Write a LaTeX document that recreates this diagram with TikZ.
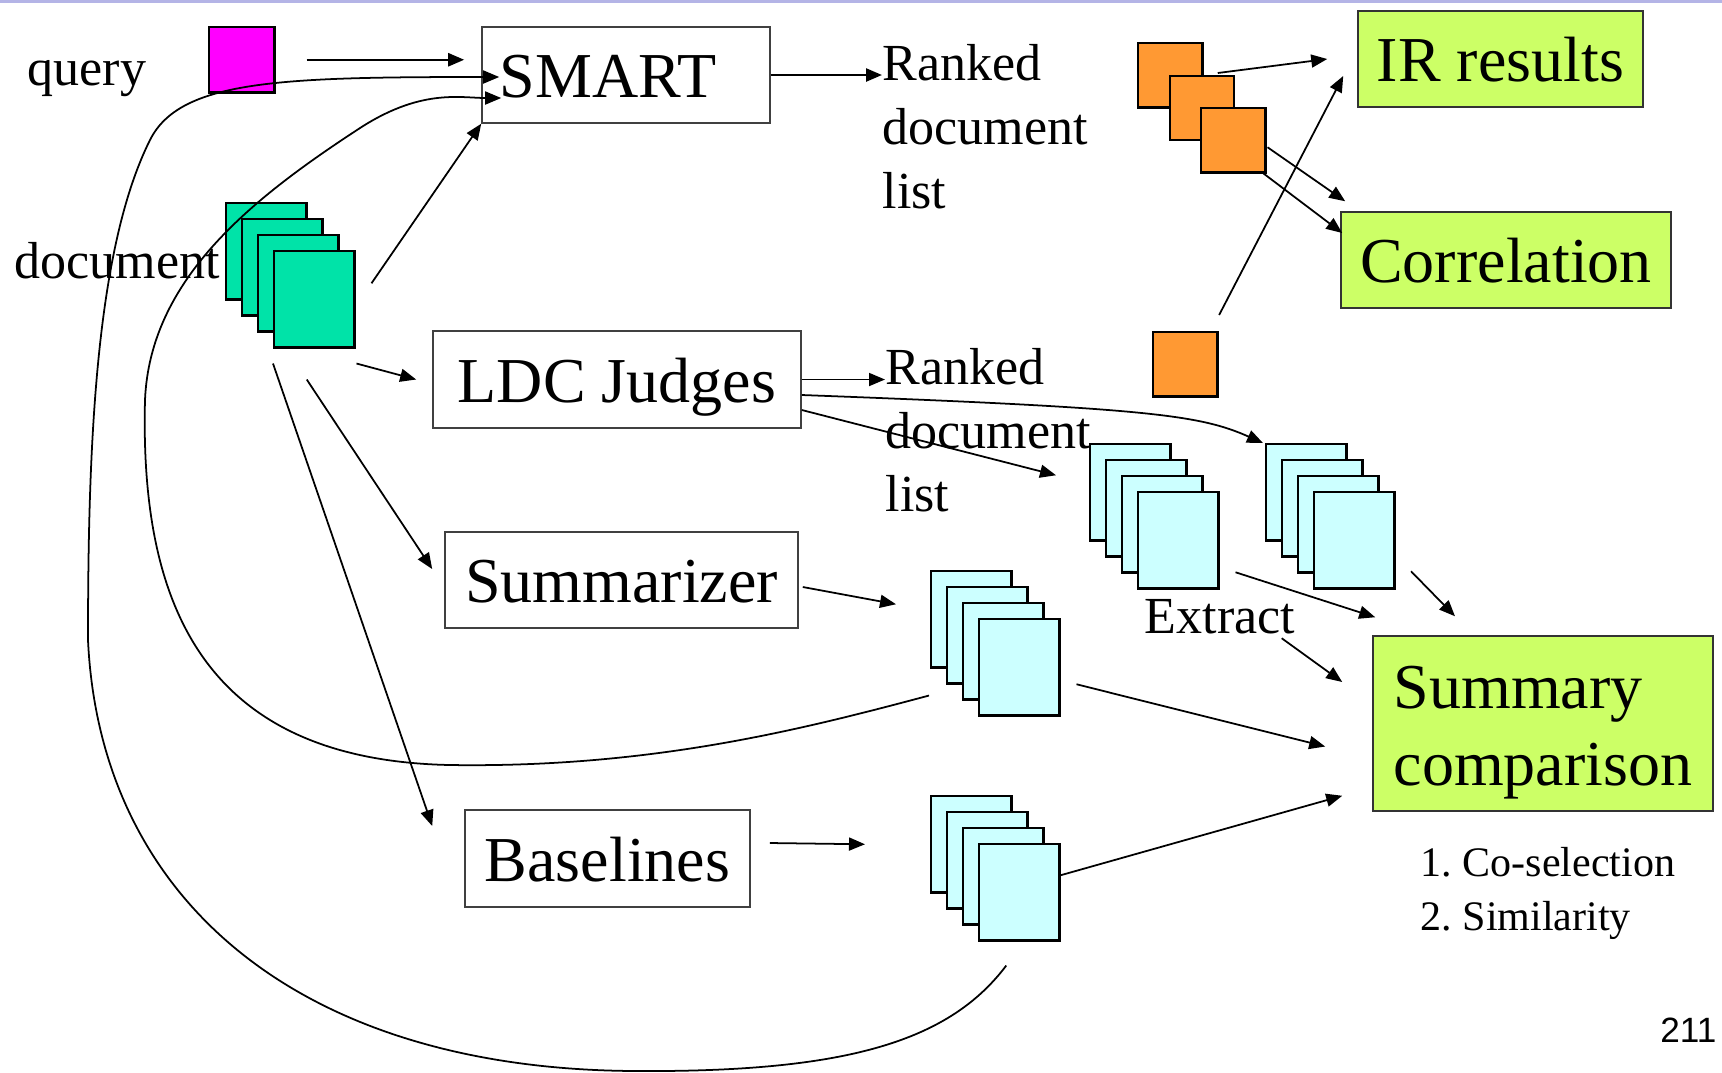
\documentclass[tikz,border=0pt]{standalone}
\usepackage{fontspec}
\setmainfont{Liberation Serif}
\newfontfamily\pagenumfont{Liberation Sans}
\usetikzlibrary{arrows.meta,calc}

\definecolor{querypink}{HTML}{FF00FF}
\definecolor{docteal}{HTML}{00E3A8}
\definecolor{rankorange}{HTML}{FF9933}
\definecolor{summcyan}{HTML}{CCFFFF}
\definecolor{resultgreen}{HTML}{CCFF66}
\definecolor{rulelavender}{HTML}{B4B4E6}

\newcommand\boxsize{\fontsize{18.2pt}{21.9pt}\selectfont}
\newcommand\textsize{\fontsize{14.8pt}{18.07pt}\selectfont}
\newcommand\notesize{\fontsize{11.95pt}{15.1pt}\selectfont}

\tikzset{
  procbox/.style={draw=black!75, line width=0.4pt, fill=white, inner sep=0pt, font=\boxsize,
    text height=15.5pt, text depth=2.7pt},
  goalbox/.style={procbox, draw=black!80, fill=resultgreen},
  sheet/.style={draw, line width=0.7pt, anchor=north west, inner sep=0pt,
    minimum width=0.8cm, minimum height=0.96cm},
  square/.style={sheet, minimum width=0.64cm, minimum height=0.64cm, fill=rankorange},
  flow/.style={-{Triangle[length=0.16cm,width=0.13cm]}, line width=0.5pt},
  lbl/.style={inner sep=0pt, anchor=base west, font=\textsize, align=left},
}

\begin{document}
\frenchspacing
\begin{tikzpicture}[x=0.01cm, y=-0.01cm]
\useasboundingbox (0,0) rectangle (1722,1072);
\draw[rulelavender, line width=0.9pt] (0,1.5) -- (1722,1.5);

% inputs
\node[lbl] (querytxt) at (27,85) {query};
\node[lbl] (doctxt) at (14,278) {document};
\node[sheet, fill=querypink, minimum width=0.65cm, minimum height=0.65cm] (query) at (208,26) {};
\foreach \i in {0,...,3}
  \node[sheet, fill=docteal] (doc\i) at (225+16*\i, 202+16*\i) {};

% systems
\node[procbox, minimum width=2.88cm, minimum height=0.96cm, text width=2.52cm, align=left] (smart) at (626,75) {SMART};
\node[procbox, minimum width=3.68cm, minimum height=0.97cm] (ldc) at (617,379.5) {LDC Judges};
\node[procbox, minimum width=3.53cm, minimum height=0.96cm] (summ) at (621.5,580) {Summarizer};
\node[procbox, minimum width=2.85cm, minimum height=0.97cm] (base) at (607.5,858.5) {Baselines};

% evaluations
\node[goalbox, minimum width=2.85cm, minimum height=0.96cm] (ir) at (1500.5,59) {IR results};
\node[goalbox, minimum width=3.30cm, minimum height=0.96cm] (corr) at (1506,260) {Correlation};
\node[goalbox, minimum width=3.40cm, minimum height=1.75cm, align=left, text height=38pt] (cmp) at (1543,723.5) {Summary\\comparison};
\node[lbl, font=\notesize] (measures) at (1420,930) {1. Co-selection\\2. Similarity};

% ranked lists (base = last line)
\node[lbl] (rank1) at (882,208) {Ranked\\document\\list};
\node[lbl] (rank2) at (885,511.7) {Ranked\\document\\list};
\foreach \i/\x/\y in {0/1137/42, 1/1168.5/74.5, 2/1200/107}
  \node[square] (ord\i) at (\x,\y) {};
\node[square] (ordl) at (1152,331) {};

% summaries
\foreach \s/\x/\y in {A/1089/443, B/1265/443, C/930/570, D/930/795}
  \foreach \i in {0,...,3}
    \node[sheet, fill=summcyan] (sum\s\i) at (\x+16*\i, \y+16*\i) {};
\node[lbl] (extract) at (1144,633) {Extract};
\node[inner sep=0pt, anchor=base east, font=\pagenumfont\fontsize{10pt}{12pt}\selectfont] (pagenum) at (1717,1042) {211};

% into SMART
\draw[flow, line width=0.7pt, shorten <=0.31cm, shorten >=0.17cm] (query.east) -- (query.east -| smart.west);
\draw[flow] ($(sumD3.south)+(-13,24)$) .. controls (950,1040) and (850,1072) .. (640,1071)
  .. controls (300,1071) and (100,900) .. (88,640)
  .. controls (88,450) and (95,250) .. (150,140)
  .. controls (180,80) and (280,77) .. ($(smart.west)+(18,2)$);
\draw[flow] ($(sumC0.south west)+(-1,27)$) .. controls (800,730) and (650,768) .. (450,765)
  .. controls (200,760) and (140,600) .. (145,400)
  .. controls (150,280) and (250,200) .. (357,130)
  .. controls (420,88) and (460,98) .. ($(smart.west)+(20,23)$);
\draw[flow] ($(doc3.east)+(16,-16)$) -- (smart.south west);

% documents to the other systems
\draw[flow] ($(doc3.south east)+(1,15)$) -- ($(ldc.west)+(-16,0)$);
\draw[flow] ($(doc3.south)+(-7.5,31)$) -- ($(summ.west)+(-12,-11)$);
\draw[flow] ($(doc3.south west)+(0,15)$) -- ($(base.west)+(-32,-32.5)$);

% ranked lists to evaluations
\draw[flow, line width=0.7pt] (smart.east) -- (smart.east -| rank1.west);
\draw[flow] ($(ord1.north)+(16,-1.5)$) -- ($(ir.west)+(-30,0)$);
\draw[flow] ($(ord2.east)+(1,7)$) -- ($(corr.north west)+(5,-10)$);
\draw[flow] ($(ord2.south east)+(-3,0)$) -- ($(corr.west)+(2,-27)$);
\draw[flow] ($(ordl.north east)+(0.6,-16)$) -- ($(ir.west)+(-14,17)$);

% judges and summarizers
\draw[flow] (ldc.east) -- (ldc.east -| rank2.west);
\draw[flow] ($(ldc.east)+(0,15.5)$) .. controls (1150,408) and (1200,415) .. ($(sumB0.north west)+(-2,0)$);
\draw[flow] ($(ldc.east)+(0,30.5)$) -- ($(sumA0.west)+(-33,-17)$);
\draw[flow] ($(summ.east)+(4,7)$) -- ($(sumC0.west)+(-34,-15)$);
\draw[flow] ($(base.east)+(19,-15.5)$) -- ($(sumD0.west)+(-65,0)$);

% summaries to comparison
\draw[flow] ($(sumA3.east)+(16,32)$) -- ($(cmp.north west)+(3,-18)$);
\draw[flow] ($(sumB3.east)+(15.5,31)$) -- ($(cmp.north)+(-88,-19)$);
\draw[flow] ($(extract.south east)+(-14,4)$) -- ($(cmp.west)+(-30,-41.5)$);
\draw[flow] ($(sumC3.east)+(16,17)$) -- ($(cmp.west)+(-47,23)$);
\draw[flow] ($(sumD3.east)+(0,-17)$) -- ($(cmp.south west)+(-30,-16)$);
\end{tikzpicture}
\end{document}
